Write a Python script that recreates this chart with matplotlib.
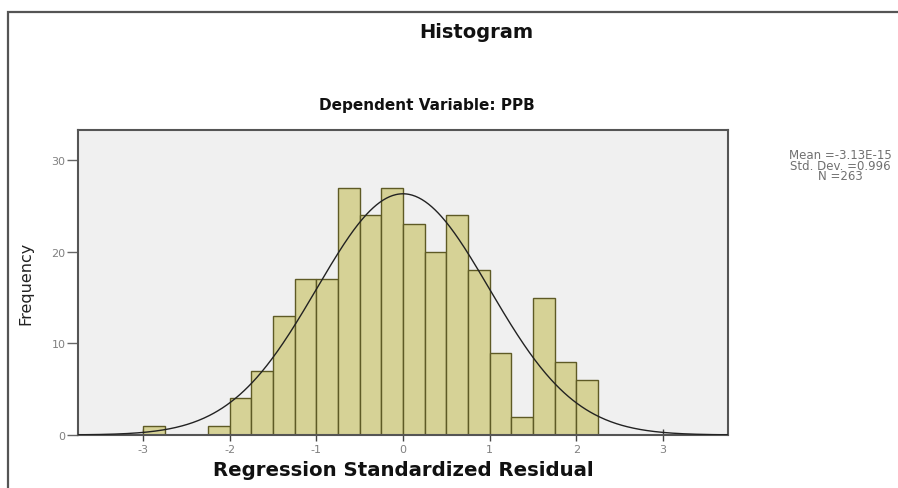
import numpy as np
import matplotlib
matplotlib.use("Agg")
import matplotlib.pyplot as plt
from matplotlib.patches import Rectangle

# ---- data ----
bin_lefts = [-3.0, -2.25, -2.0, -1.75, -1.5, -1.25, -1.0, -0.75, -0.5, -0.25,
             0.0, 0.25, 0.5, 0.75, 1.0, 1.25, 1.5, 1.75, 2.0]
counts = [1, 1, 4, 7, 13, 17, 17, 27, 24, 27, 23, 20, 24, 18, 9, 2, 15, 8, 6]
bin_width = 0.25
x_ticks = [-3, -2, -1, 0, 1, 2, 3]
y_ticks = [0, 10, 20, 30]
mean_val = -3.13e-15
sd_val = 0.996
n_val = 263
stats_lines = ["Mean =-3.13E-15", "Std. Dev. =0.996", "N =263"]

W, H = 898, 489
fig = plt.figure(figsize=(W / 100, H / 100), dpi=100)
fig.patch.set_facecolor("white")

# outer frame (left and top visible, right/bottom run off the image)
fig.patches.append(Rectangle((8 / W, -0.2), 2.0, (H - 13) / H + 0.2,
                             transform=fig.transFigure, fill=False,
                             edgecolor="#555555", linewidth=1.6))

ax = fig.add_axes([78 / W, (H - 436) / H, (728 - 78) / W, (436 - 131) / H])
ax.set_facecolor("#f0f0f0")

ax.bar(bin_lefts, counts, width=bin_width, align="edge",
       color="#d6d296", edgecolor="#5e5a25", linewidth=1.0, zorder=2)

xs = np.linspace(-3.75, 3.75, 600)
ys = n_val * bin_width * np.exp(-0.5 * ((xs - mean_val) / sd_val) ** 2) / (sd_val * np.sqrt(2 * np.pi))
ax.plot(xs, ys, color="#222222", linewidth=1.0, zorder=3)

ax.set_xlim(-3.75, 3.75)
ax.set_ylim(0, 33.3)
ax.set_xticks(x_ticks)
ax.set_xticklabels([str(v) for v in x_ticks])
ax.set_yticks(y_ticks)
ax.set_yticklabels([str(v) for v in y_ticks])

for s in ax.spines.values():
    s.set_color("#555555")
    s.set_linewidth(1.5)

ax.tick_params(axis="x", direction="inout", length=9, width=1.0, color="#444444",
               labelsize=8, labelcolor="#808080", pad=2)
ax.tick_params(axis="y", direction="out", length=8, width=1.0, color="#666666",
               labelsize=8, labelcolor="#808080", pad=1)

fig.text(476 / W, 1 - 32 / H, "Histogram", ha="center", va="center",
         fontsize=14, fontweight="bold", family="DejaVu Sans", color="#111111")
fig.text(427 / W, 1 - 106 / H, "Dependent Variable: PPB", ha="center", va="center",
         fontsize=11, fontweight="bold", family="DejaVu Sans", color="#111111")
fig.text(403 / W, 1 - 471 / H, "Regression Standardized Residual", ha="center", va="center",
         fontsize=14.2, fontweight="bold", family="DejaVu Sans", color="#111111")
fig.text(26 / W, 1 - 283 / H, "Frequency", ha="center", va="center", rotation=90,
         fontsize=11.5, family="DejaVu Sans", color="#222222")

fig.text(840 / W, 1 - 166 / H, "\n".join(stats_lines), ha="center", va="center",
         multialignment="center", linespacing=0.78,
         fontsize=8.5, family="DejaVu Sans", color="#707070")

fig.savefig("out.png", dpi=100)
